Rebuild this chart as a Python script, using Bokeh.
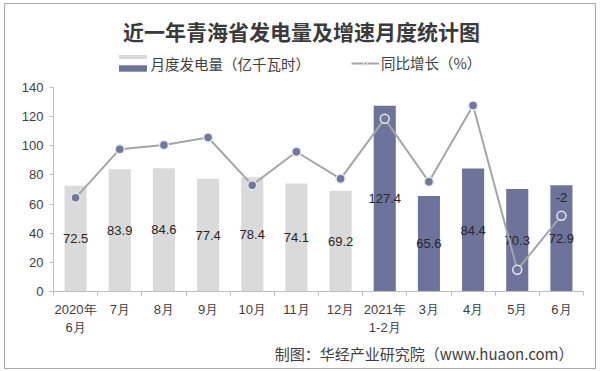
from bokeh.plotting import figure
from bokeh.models import (Range1d, LinearAxis, FixedTicker, ColumnDataSource, Label,
                          Legend, LegendItem, Title, InlineStyleSheet)
from bokeh.core.properties import value
from bokeh.embed import file_html
from bokeh.resources import INLINE

# ---------------- data ----------------
months = ["2020年\n6月", "7月", "8月", "9月", "10月", "11月", "12月",
          "2021年\n1-2月", "3月", "4月", "5月", "6月"]
years = [2020, 2020, 2020, 2020, 2020, 2020, 2020, 2021, 2021, 2021, 2021, 2021]
output = [72.5, 83.9, 84.6, 77.4, 78.4, 74.1, 69.2, 127.4, 65.6, 84.4, 70.3, 72.9]
# growth line as drawn (position read on the left scale)
growth_plot = [64.3, 97.7, 100.5, 105.7, 73.0, 95.9, 77.3, 118.5, 75.3, 127.7, 14.9, 52.0]
growth_text = ["", "", "", "", "", "", "", "", "", "", "", "-2"]
y_ticks = [0, 20, 40, 60, 80, 100, 120, 140]

title_text = "近一年青海省发电量及增速月度统计图"
bar_name = "月度发电量（亿千瓦时）"
line_name = "同比增长（%）"
source_text = "制图：华经产业研究院（www.huaon.com）"

# ---------------- styles ----------------
LIGHT = "#dadada"
DARK = "#6d739a"
MARK = "#72779b"
LINE = "#a5a5a5"
AXIS = "#bfbfbf"
TXT = "#404040"
NUM_FONT = "Liberation Sans"
CJK_FONT = "Noto Sans CJK SC"

FRAME_H = 291          # frame height in px (frame reaches the top of the canvas)
AXIS_H = 204           # px used by the 0..140 value axis
Y_MAX = y_ticks[-1]

xs = [i + 0.5 for i in range(len(months))]

def subset(year):
    idx = [i for i, y in enumerate(years) if y == year]
    return ColumnDataSource(dict(x=[xs[i] for i in idx], top=[output[i] for i in idx]))

src = ColumnDataSource(dict(
    x=xs, output=output, half=[v / 2 for v in output],
    label=[f"{v:.1f}" for v in output],
    growth=growth_plot, gtext=growth_text))

p = figure(width=600, height=371, x_range=Range1d(0, len(months)),
           y_range=Range1d(0, Y_MAX * FRAME_H / AXIS_H),
           output_backend="svg", toolbar_location=None, x_axis_location=None,
           title_location=None,
           min_border_left=53, min_border_right=17, min_border_top=0, min_border_bottom=80,
           outline_line_color=None, background_fill_color="white", border_fill_color="white")
p.grid.visible = False
p.stylesheets = [InlineStyleSheet(css=(
    ":host::after { content: ''; position: absolute; left: 4px; top: 3px; width: 590px;"
    " height: 364px; border: 1px solid #a9a9a9; pointer-events: none; z-index: 1000; }"))]

ya = p.yaxis[0]
ya.ticker = FixedTicker(ticks=y_ticks)
ya.bounds = (0, Y_MAX)
ya.axis_line_color = AXIS
ya.major_tick_line_color = AXIS
ya.major_tick_out = 4
ya.major_tick_in = 0
ya.minor_tick_line_color = None
ya.major_label_text_font = NUM_FONT
ya.major_label_text_font_size = "13px"
ya.major_label_text_color = TXT
ya.major_label_standoff = 6

xa = LinearAxis(
    ticker=FixedTicker(ticks=xs, minor_ticks=list(range(len(months) + 1))),
    major_label_overrides={x: m for x, m in zip(xs, months)},
    axis_line_color=AXIS, major_tick_line_color=None, major_tick_out=0, major_tick_in=0,
    minor_tick_line_color=AXIS, minor_tick_out=4, minor_tick_in=0,
    major_label_standoff=6, major_label_text_font=NUM_FONT,
    major_label_text_font_size="13px", major_label_text_color=TXT,
    major_label_text_line_height=1.25)
p.add_layout(xa, "below")

# bars
light_r = p.vbar(x="x", top="top", width=0.5, fill_color=LIGHT, line_color=None, source=subset(2020))
dark_r = p.vbar(x="x", top="top", width=0.5, fill_color=DARK, line_color=None, source=subset(2021))

p.text(x="x", y="half", text="label", source=src, text_align="center", text_baseline="middle",
       text_font=value(NUM_FONT), text_font_size="13px", text_color="#262626")

# growth line
line_r = p.line(x="x", y="growth", line_color=LINE, line_width=2, source=src)
pts_r = p.scatter(x="x", y="growth", size=9, fill_color=MARK, line_color="#e4e6f0",
                  line_width=1.5, source=src)
p.text(x="x", y="growth", text="gtext", source=src, y_offset=-18, text_align="center",
       text_baseline="middle", text_font=value(NUM_FONT), text_font_size="13px",
       text_color="#262626")

# legends: the bar swatch shows both bar colours (light above, dark below)
common = dict(orientation="horizontal", padding=0, margin=0, spacing=0,
              border_line_color=None, background_fill_alpha=0)
swatch = dict(label_text_font_size="1px", label_standoff=0, label_width=0, label_height=0,
              glyph_width=35)
legA = Legend(items=[LegendItem(label=" ", renderers=[light_r])], location=(61.5, 232.5),
              glyph_height=5, **swatch, **common)
legB = Legend(items=[LegendItem(label=" ", renderers=[dark_r])], location=(61.5, 219),
              glyph_height=8, **swatch, **common)
legC = Legend(items=[LegendItem(label=line_name, renderers=[line_r, pts_r])], location=(298, 218),
              glyph_width=28, glyph_height=8, label_text_font=CJK_FONT,
              label_text_font_size="14.5px", label_text_color=TXT, label_standoff=2,
              label_height=8, **common)
for lg in (legA, legB, legC):
    p.add_layout(lg, "center")
p.add_layout(Label(x=97, y=228, x_units="screen", y_units="screen", text=bar_name,
                   text_align="left", text_baseline="middle", text_font=CJK_FONT,
                   text_font_size="14.5px", text_color=TXT))

# title
p.add_layout(Label(x=248, y=261, x_units="screen", y_units="screen", text=title_text,
                   text_align="center", text_baseline="middle", text_font=CJK_FONT,
                   text_font_style="bold", text_font_size="21px", text_color="#3a3a3a"))

# source line below the axis
p.add_layout(Title(text=source_text, align="right", text_font=CJK_FONT, text_font_size="15px",
                   text_font_style="normal", text_color=TXT, standoff=5, offset=10), "below")

open("out.html", "w").write(file_html(p, INLINE))
